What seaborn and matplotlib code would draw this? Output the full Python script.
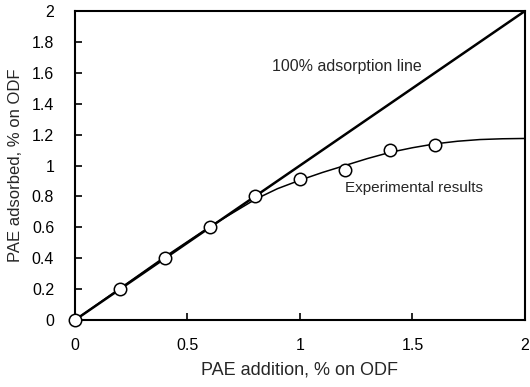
import matplotlib
matplotlib.use("Agg")
import matplotlib.pyplot as plt
import seaborn as sns
import pandas as pd

# Data
exp_x = [0.0, 0.2, 0.4, 0.6, 0.8, 1.0, 1.2, 1.4, 1.6]
exp_y = [0.0, 0.20, 0.40, 0.60, 0.80, 0.91, 0.97, 1.10, 1.13]

fit_x = [0.0, 0.2, 0.4, 0.6, 0.8, 0.9, 1.0, 1.1, 1.2, 1.3, 1.4, 1.5, 1.6, 1.7, 1.8, 1.9, 2.0]
fit_y = [0.0, 0.205, 0.41, 0.605, 0.78, 0.85, 0.905, 0.955, 1.0, 1.045, 1.085, 1.115, 1.14, 1.157, 1.168, 1.173, 1.175]

line_x = [0.0, 2.0]
line_y = [0.0, 2.0]

xticks = [0, 0.5, 1, 1.5, 2]
xticklabels = ["0", "0.5", "1", "1.5", "2"]
yticks = [0, 0.2, 0.4, 0.6, 0.8, 1.0, 1.2, 1.4, 1.6, 1.8, 2.0]
yticklabels = ["0", "0.2", "0.4", "0.6", "0.8", "1", "1.2", "1.4", "1.6", "1.8", "2"]

sns.set_theme(style="white")
plt.rcParams['font.family'] = ['Liberation Sans', 'DejaVu Sans']

fig = plt.figure(figsize=(5.3, 3.87), dpi=100)
ax = fig.add_axes([0.1415, 0.1731, 0.849, 0.7985])

df_line = pd.DataFrame({"x": line_x, "y": line_y})
df_fit = pd.DataFrame({"x": fit_x, "y": fit_y})
df_exp = pd.DataFrame({"x": exp_x, "y": exp_y})

sns.lineplot(data=df_line, x="x", y="y", ax=ax, color="black", linewidth=1.8)
sns.lineplot(data=df_fit, x="x", y="y", ax=ax, color="black", linewidth=1.1)
sns.scatterplot(data=df_exp, x="x", y="y", ax=ax, marker="o", s=80,
                facecolor="white", edgecolor="black", linewidth=1.1, zorder=5, clip_on=False)

ax.set_xlim(0, 2)
ax.set_ylim(0, 2)
ax.set_xticks(xticks)
ax.set_xticklabels(xticklabels)
ax.set_yticks(yticks)
ax.set_yticklabels(yticklabels)
ax.tick_params(axis="both", direction="in", length=5, width=1.2, colors="black",
               labelsize=11.5, bottom=True, left=True)
ax.tick_params(axis="x", pad=13)
ax.tick_params(axis="y", pad=15)
for s in ax.spines.values():
    s.set_visible(True)
    s.set_color("black")
    s.set_linewidth(1.5)

ax.set_xlabel("PAE addition, % on ODF", fontsize=13, labelpad=6)
ax.set_ylabel("PAE adsorbed, % on ODF", fontsize=12, labelpad=6)

ax.text(0.876, 1.64, "100% adsorption line", fontsize=11.5, va="center", ha="left")
ax.text(1.2, 0.855, "Experimental results", fontsize=11, va="center", ha="left")

fig.savefig("out.png", dpi=100)
